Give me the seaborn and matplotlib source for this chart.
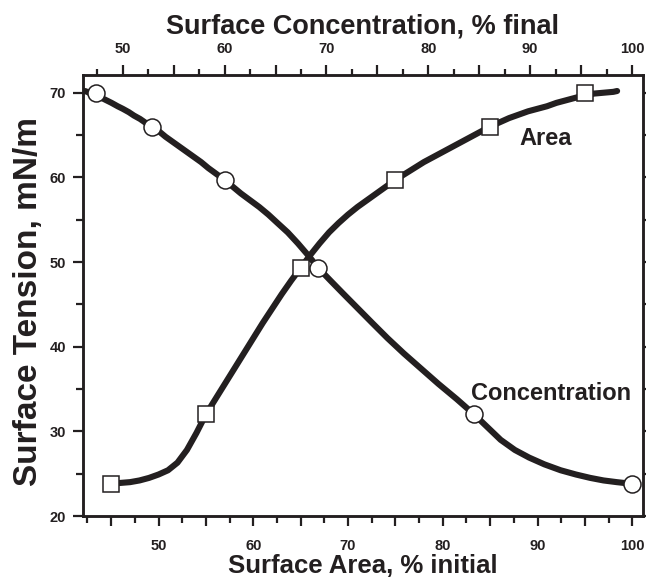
import numpy as np
import pandas as pd
import matplotlib
matplotlib.use("Agg")
import matplotlib.pyplot as plt
from matplotlib.ticker import MultipleLocator, FuncFormatter
import seaborn as sns

# ---------------- data ----------------
# Area curve: surface tension vs surface area (% initial), bottom axis
area_x = [45.9, 47, 48, 49, 50, 51, 52, 53, 54, 55, 56, 57, 58, 59, 60, 61, 62, 63, 64,
          65, 66, 67, 68, 69, 70, 71, 72, 73, 74, 75, 76, 77, 78, 79, 80, 81, 82, 83, 84,
          85, 86, 87, 88, 89, 90, 91, 92, 93, 94, 95, 96, 97, 98, 98.4]
area_y = [23.9, 24.0, 24.2, 24.5, 24.9, 25.4, 26.3, 27.8, 29.8, 32.0, 33.8, 35.6, 37.4,
          39.2, 41.0, 42.8, 44.5, 46.2, 47.8, 49.3, 50.8, 52.2, 53.5, 54.6, 55.6, 56.5,
          57.3, 58.1, 58.9, 59.7, 60.4, 61.1, 61.8, 62.4, 63.0, 63.6, 64.2, 64.8, 65.4,
          66.0, 66.5, 67.0, 67.4, 67.8, 68.1, 68.4, 68.8, 69.1, 69.4, 69.7, 69.9, 70.0,
          70.1, 70.2]

# Concentration curve: surface tension vs surface concentration (% final), top axis
conc_x = [46.3, 46.9, 47.4, 47.9, 48.4, 48.9, 49.5, 50.0, 50.6, 51.1, 51.7, 52.3, 52.9,
          53.6, 54.2, 54.9, 55.6, 56.3, 57.0, 57.7, 58.4, 59.2, 60.0, 60.8, 61.6, 62.5,
          63.4, 64.3, 65.2, 66.2, 67.2, 68.2, 69.2, 70.4, 71.7, 73.1, 74.5, 76.0, 77.6,
          79.3, 81.0, 82.8, 84.5, 85.8, 87.1, 88.5, 89.9, 91.4, 93.0, 94.5, 95.9, 97.2,
          98.5, 100.0]
conc_y = [70.2, 69.9, 69.7, 69.4, 69.1, 68.8, 68.4, 68.1, 67.7, 67.3, 66.9, 66.4, 66.0,
          65.4, 64.8, 64.2, 63.6, 63.0, 62.4, 61.8, 61.1, 60.4, 59.7, 58.9, 58.1, 57.3,
          56.5, 55.6, 54.6, 53.5, 52.2, 50.8, 49.3, 47.8, 46.2, 44.5, 42.8, 41.0, 39.2,
          37.4, 35.6, 33.8, 32.0, 30.5, 29.0, 27.8, 26.9, 26.1, 25.4, 24.9, 24.5, 24.2,
          24.0, 23.8]

# Markers
sq_x = [45, 55, 65, 75, 85, 95]
sq_y = [23.8, 32.0, 49.3, 59.7, 66.0, 70.0]
ci_x = [47.4, 52.9, 60.0, 69.2, 84.5, 100.0]
ci_y = [70.0, 66.0, 59.7, 49.3, 32.0, 23.8]

bottom_label = "Surface Area, % initial"
top_label = "Surface Concentration, % final"
y_label = "Surface Tension, mN/m"

# ---------------- style ----------------
sns.set_theme(style="ticks")
plt.rcParams["font.family"] = ["Liberation Sans", "DejaVu Sans"]
INK = "#231f20"

fig = plt.figure(figsize=(6.46, 5.80), dpi=100)
ax = fig.add_axes([82.7 / 646, 1 - 516 / 580, 560 / 646, 441 / 580])
ax2 = ax.twiny()

df_area = pd.DataFrame({"area": area_x, "tension": area_y})
df_conc = pd.DataFrame({"conc": conc_x, "tension": conc_y})

sns.lineplot(data=df_area, x="area", y="tension", ax=ax, color=INK, lw=4.4,
             sort=False, estimator=None, zorder=2)
sns.lineplot(data=df_conc, x="conc", y="tension", ax=ax2, color=INK, lw=4.4,
             sort=False, estimator=None, zorder=2)

# markers on top of both curves
ax2.plot(sq_x, sq_y, ls="none", marker="s", ms=12, mfc="white", mec=INK, mew=1.1,
         transform=ax.transData, zorder=5, clip_on=False)
sns.scatterplot(x=ci_x, y=ci_y, ax=ax2, marker="o", s=150, color="white",
                edgecolor=INK, linewidth=1.1, zorder=6, clip_on=False)

ax.set_xlim(42.0, 101.1)
ax.set_ylim(20, 72.09)
ax2.set_xlim(46.07, 101.05)

lab10 = FuncFormatter(lambda v, p: f"{v:.0f}" if abs(v % 10) < 1e-6 else "")
for a in (ax, ax2):
    a.xaxis.set_major_locator(MultipleLocator(5))
    a.xaxis.set_minor_locator(MultipleLocator(2.5))
    a.xaxis.set_major_formatter(lab10)
ax.yaxis.set_major_locator(MultipleLocator(10))
ax.yaxis.set_minor_locator(MultipleLocator(5))

for a in (ax, ax2):
    for s in a.spines.values():
        s.set_linewidth(1.8)
        s.set_color(INK)

ax.tick_params(axis="x", which="major", direction="out", length=7.5, width=1.6,
               pad=9, labelsize=10.5, colors=INK, bottom=True, top=False)
ax.tick_params(axis="x", which="minor", direction="out", length=4.8, width=1.6,
               bottom=True, top=False, colors=INK)
ax.tick_params(axis="y", which="major", direction="out", length=7.5, width=1.6,
               pad=4.5, labelsize=10.5, colors=INK, left=True, right=True,
               labelright=False)
ax.tick_params(axis="y", which="minor", direction="out", length=4.8, width=1.6,
               left=True, right=True, colors=INK)
ax2.tick_params(axis="x", which="major", direction="out", length=7.5, width=1.6,
                pad=6.5, labelsize=10.5, colors=INK)
ax2.tick_params(axis="x", which="minor", direction="out", length=4.5, width=1.6,
                colors=INK)
for lbl in ax.get_xticklabels() + ax.get_yticklabels() + ax2.get_xticklabels():
    lbl.set_fontweight("bold")

ax.set_xlabel(bottom_label, fontsize=18.5, fontweight="bold", color=INK, labelpad=1)
ax2.set_xlabel(top_label, fontsize=19.5, fontweight="bold", color=INK, labelpad=6)
ax.set_ylabel(y_label, fontsize=24, fontweight="bold", color=INK)
ax.yaxis.set_label_coords(-0.069, 0.4875)

ax.text(93.6, 64.6, "Area", fontsize=17, fontweight="bold", color=INK,
        ha="right", va="center")
ax.text(99.9, 34.5, "Concentration", fontsize=17, fontweight="bold", color=INK,
        ha="right", va="center")

fig.savefig("out.png", dpi=100)
